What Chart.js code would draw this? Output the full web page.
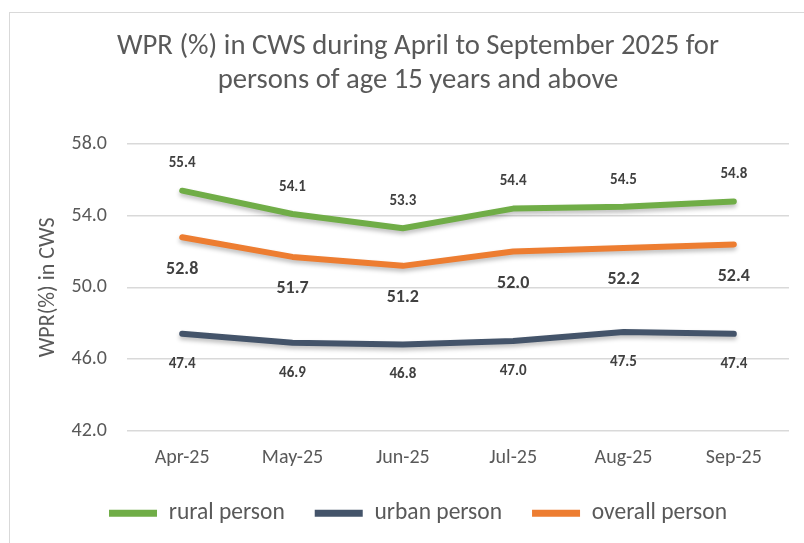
<!DOCTYPE html>
<html lang="en">
<head>
    <meta charset="UTF-8">
    <title>WPR in CWS</title>
    <script src="https://cdn.jsdelivr.net/npm/chart.js"></script>
    <style>
        body { margin: 0; background: #fff; overflow: hidden; }
        .frame { position: absolute; left: 9px; top: 12px; width: 900px; height: 600px; border: 1px solid #d9d9d9; }
        canvas { position: absolute; left: 0; top: 0; }
    </style>
</head>
<body>
    <div class="frame"></div>
    <canvas id="wpr-chart" width="804" height="543"></canvas>

    <script>
        // data
        const months = ['Apr-25', 'May-25', 'Jun-25', 'Jul-25', 'Aug-25', 'Sep-25'];
        const rural = [55.4, 54.1, 53.3, 54.4, 54.5, 54.8];
        const urban = [47.4, 46.9, 46.8, 47.0, 47.5, 47.4];
        const overall = [52.8, 51.7, 51.2, 52.0, 52.2, 52.4];

        const FONT = 'Carlito, Calibri, "Liberation Sans Narrow", "Open Sans", sans-serif';
        const GREY = '#595959';

        // value labels above / below each point
        const valueLabels = {
            id: 'valueLabels',
            afterDatasetsDraw(chart) {
                const ctx = chart.ctx;
                chart.data.datasets.forEach((ds, i) => {
                    const meta = chart.getDatasetMeta(i);
                    ctx.save();
                    ctx.fillStyle = '#404040';
                    ctx.font = 'bold ' + ds.labelSize + 'px ' + FONT;
                    ctx.textAlign = 'center';
                    ctx.textBaseline = 'middle';
                    meta.data.forEach((pt, j) => {
                        ctx.fillText(ds.data[j].toFixed(1), pt.x, pt.y + ds.labelOffset);
                    });
                    ctx.restore();
                });
            }
        };

        // soft shadow under the lines
        const lineShadow = {
            id: 'lineShadow',
            beforeDatasetDraw(chart) {
                const ctx = chart.ctx;
                ctx.save();
                ctx.shadowColor = 'rgba(0,0,0,0.25)';
                ctx.shadowBlur = 4;
                ctx.shadowOffsetY = 3;
            },
            afterDatasetDraw(chart) {
                chart.ctx.restore();
            }
        };

        function series(label, data, color, labelOffset, labelSize) {
            return {
                label: label,
                data: data,
                borderColor: color,
                backgroundColor: color,
                borderWidth: 6,
                borderCapStyle: 'round',
                borderJoinStyle: 'round',
                pointRadius: 0,
                tension: 0,
                labelOffset: labelOffset,
                labelSize: labelSize
            };
        }

        new Chart(document.getElementById('wpr-chart'), {
            type: 'line',
            data: {
                labels: months,
                datasets: [
                    series('rural person', rural, '#70AD47', -27, 15),
                    series('urban person', urban, '#44546A', 30, 15),
                    series('overall person', overall, '#ED7D31', 32, 18)
                ]
            },
            options: {
                responsive: false,
                animation: false,
                layout: { padding: { left: 47, right: 15, top: 0, bottom: 8 } },
                plugins: {
                    title: {
                        display: true,
                        text: ['WPR (%) in CWS during April to September 2025 for', 'persons of age 15 years and above'],
                        color: GREY,
                        font: { family: FONT, size: 28.7, weight: 'normal', lineHeight: 1.17 },
                        padding: { top: 30, bottom: 47 }
                    },
                    legend: {
                        position: 'bottom',
                        labels: {
                            color: GREY,
                            font: { family: FONT, size: 23.5 },
                            boxWidth: 48,
                            boxHeight: 7,
                            padding: 30,
                            useBorderRadius: true,
                            borderRadius: 3.5,
                            generateLabels(chart) {
                                return chart.data.datasets.map((ds, i) => ({
                                    text: ds.label,
                                    fillStyle: ds.borderColor,
                                    strokeStyle: ds.borderColor,
                                    lineWidth: 0,
                                    fontColor: GREY,
                                    datasetIndex: i
                                }));
                            }
                        }
                    },
                    tooltip: { enabled: false }
                },
                scales: {
                    x: {
                        offset: true,
                        grid: { display: false, drawTicks: false },
                        border: { display: false },
                        ticks: { color: GREY, font: { family: FONT, size: 20 }, padding: 15 },
                        afterFit(scale) { scale.height = 41; }
                    },
                    y: {
                        min: 42,
                        max: 58,
                        grid: { color: '#d9d9d9', lineWidth: 1.5, drawTicks: false },
                        border: { display: false },
                        ticks: {
                            stepSize: 4,
                            color: GREY,
                            padding: 20,
                            font: { family: FONT, size: 20 },
                            callback: v => v.toFixed(1)
                        },
                        title: {
                            display: true,
                            text: 'WPR(%) in CWS',
                            color: GREY,
                            font: { family: FONT, size: 22 },
                            padding: { top: -12 }
                        },
                        afterFit(scale) { scale.width = 80; }
                    }
                }
            },
            plugins: [lineShadow, valueLabels]
        });
    </script>
</body>
</html>
